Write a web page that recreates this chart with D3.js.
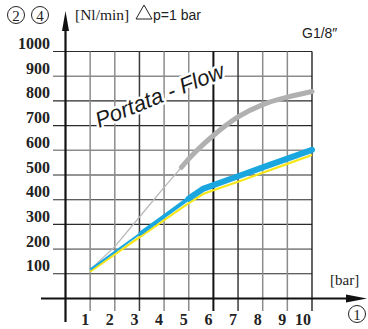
<!DOCTYPE html>
<html>
<head>
<meta charset="utf-8">
<script src="https://cdn.jsdelivr.net/npm/d3@7"></script>
<style>
  body { margin: 0; background: #fff; }
  svg { display: block; }
</style>
</head>
<body>
<svg id="chart"></svg>
<script>
// pressure [bar] on x, flow [Nl/min] on y
const pressures = [1, 2, 3, 4, 5, 5.6, 6, 7, 8, 9, 10];
const grayFlow   = [117, 210, 330, 450, 565, 625, 660, 735, 785, 815, 838];
const blueFlow   = [117, 189, 261, 333, 405, 445, 459, 495, 531, 566, 602];
const yellowFlow = [109, 179, 248, 317, 386, 424, 438, 473, 509, 545, 581];
const xTicks = [1, 2, 3, 4, 5, 6, 7, 8, 9, 10];
const yTicks = [100, 200, 300, 400, 500, 600, 700, 800, 900, 1000];

const width = 368, height = 329;
const serif = "'Liberation Serif', 'Times New Roman', 'DejaVu Serif', serif";
const sans = "'Liberation Sans', Arial, sans-serif";

const svg = d3.select("#chart")
  .attr("width", width)
  .attr("height", height);

const x = d3.scaleLinear().domain([0, 10]).range([65.5, 312]);
const y = d3.scaleLinear().domain([0, 1000]).range([298.5, 51.5]);

// grid (lighter lines and darker ones, like the print)
const lightY = [200, 600, 900];
const lightX = [1, 2, 4, 5, 8, 9];

const grid = svg.append("g");
grid.selectAll(".hg")
  .data(yTicks)
  .enter().append("line")
    .attr("x1", 53).attr("x2", x(10))
    .attr("y1", d => y(d)).attr("y2", d => y(d))
    .style("stroke", d => lightY.includes(d) ? "#8c8c8c" : "#2a2a2a")
    .style("stroke-width", d => lightY.includes(d) ? 1.6 : 1.1);

grid.selectAll(".vg")
  .data(xTicks)
  .enter().append("line")
    .attr("x1", d => x(d)).attr("x2", d => x(d))
    .attr("y1", y(1000)).attr("y2", 311)
    .style("stroke", d => d == 6 || d == 10 ? "#111" : (lightX.includes(d) ? "#8c8c8c" : "#3a3a3a"))
    .style("stroke-width", d => d == 6 ? 2 : (d == 10 ? 1.3 : 1.5));

// Portata - Flow label with white knock-out
const lbl = svg.append("g")
  .attr("transform", "translate(99,128) rotate(-22)");
lbl.append("text")
  .text("Portata - Flow")
  .style("font-family", sans)
  .style("font-style", "italic")
  .style("font-size", "22px")
  .style("fill", "none")
  .style("stroke", "#fff")
  .style("stroke-width", 5)
  .style("stroke-linejoin", "round");
lbl.append("text")
  .text("Portata - Flow")
  .style("font-family", sans)
  .style("font-style", "italic")
  .style("font-size", "22px")
  .style("fill", "#1a1a1a");

// curves
const pts = (vals) => pressures.map((p, i) => [p, vals[i]]);
const line = d3.line().x(d => x(d[0])).y(d => y(d[1]));
const curves = svg.append("g");

const gray = pts(grayFlow);
curves.append("path")
  .attr("d", line(gray.filter(d => d[0] <= 5)))
  .style("fill", "none").style("stroke", "#b8b8b8").style("stroke-width", 1.3);
curves.append("path")
  .attr("d", d3.line().x(d => x(d[0])).y(d => y(d[1])).curve(d3.curveMonotoneX)(
    [[4.7, grayFlow[3] + (grayFlow[4] - grayFlow[3]) * 0.7]].concat(gray.filter(d => d[0] >= 5))))
  .style("fill", "none").style("stroke", "#b0b0b0").style("stroke-width", 5)
  .style("stroke-linecap", "round").style("stroke-linejoin", "round");

curves.append("path")
  .attr("d", line(pts(yellowFlow)))
  .style("fill", "none").style("stroke", "#f5e61a").style("stroke-width", 2.2)
  .style("stroke-linejoin", "round");

const blue = pts(blueFlow);
curves.append("path")
  .attr("d", line(blue))
  .style("fill", "none").style("stroke", "#1aa7e0").style("stroke-width", 2);
curves.append("path")
  .attr("d", line(blue.filter(d => d[0] >= 3)))
  .style("fill", "none").style("stroke", "#1aa7e0").style("stroke-width", 4)
  .style("stroke-linejoin", "round");
curves.append("path")
  .attr("d", line(blue.filter(d => d[0] >= 5)))
  .style("fill", "none").style("stroke", "#1aa7e0").style("stroke-width", 6)
  .style("stroke-linecap", "round").style("stroke-linejoin", "round");

// axes lines + arrows
svg.append("line")
  .attr("x1", x(0)).attr("x2", x(0)).attr("y1", 26).attr("y2", 322)
  .style("stroke", "#111").style("stroke-width", 2.2);
svg.append("line")
  .attr("x1", 41).attr("x2", 350).attr("y1", y(0)).attr("y2", y(0))
  .style("stroke", "#111").style("stroke-width", 2.2);
svg.append("path")
  .attr("d", `M${x(0)},11 L${x(0) - 3.5},31 L${x(0) + 3.5},31 Z`)
  .style("fill", "#111");
svg.append("path")
  .attr("d", `M367,${y(0)} L346,${y(0) - 4} L346,${y(0) + 4} Z`)
  .style("fill", "#111");

// tick labels
svg.selectAll(".yl")
  .data(yTicks)
  .enter().append("text")
    .attr("x", 50).attr("y", d => y(d) - 2.5)
    .attr("text-anchor", "end")
    .style("font-family", serif)
    .style("font-weight", "bold").style("font-size", "16px")
    .style("fill", "#222")
    .text(d => d);

svg.selectAll(".xl")
  .data(xTicks)
  .enter().append("text")
    .attr("x", d => x(d) - 1).attr("y", 325)
    .attr("text-anchor", "end")
    .style("font-family", serif)
    .style("font-weight", "bold").style("font-size", "16px")
    .style("fill", "#222")
    .text(d => d);

// circled numbers
const circled = [[16, 15, "2"], [40, 15, "4"], [357, 314, "1"]];
circled.forEach(c => {
  svg.append("circle").attr("cx", c[0]).attr("cy", c[1]).attr("r", 8.5)
    .style("fill", "none").style("stroke", "#222").style("stroke-width", 1);
  svg.append("text").attr("x", c[0]).attr("y", c[1] + 5.5)
    .attr("text-anchor", "middle")
    .style("font-family", serif).style("font-size", "15px")
    .style("fill", "#222").text(c[2]);
});

// titles
svg.append("text").attr("x", 75).attr("y", 20)
  .style("font-family", serif).style("font-size", "15.5px")
  .style("fill", "#222").text("[Nl/min]");
svg.append("path")
  .attr("d", "M136,19 L144,5 L152,19 Z")
  .style("fill", "none").style("stroke", "#222").style("stroke-width", 1);
svg.append("text").attr("x", 153).attr("y", 20)
  .style("font-family", sans).style("font-size", "14px")
  .style("fill", "#222").text("p=1 bar");
svg.append("text").attr("x", 302).attr("y", 38)
  .style("font-family", sans).style("font-size", "14px")
  .style("fill", "#222").text("G1/8\u2033");
svg.append("text").attr("x", 330).attr("y", 285)
  .style("font-family", serif).style("font-size", "15px")
  .style("fill", "#222").text("[bar]");
</script>
</body>
</html>
